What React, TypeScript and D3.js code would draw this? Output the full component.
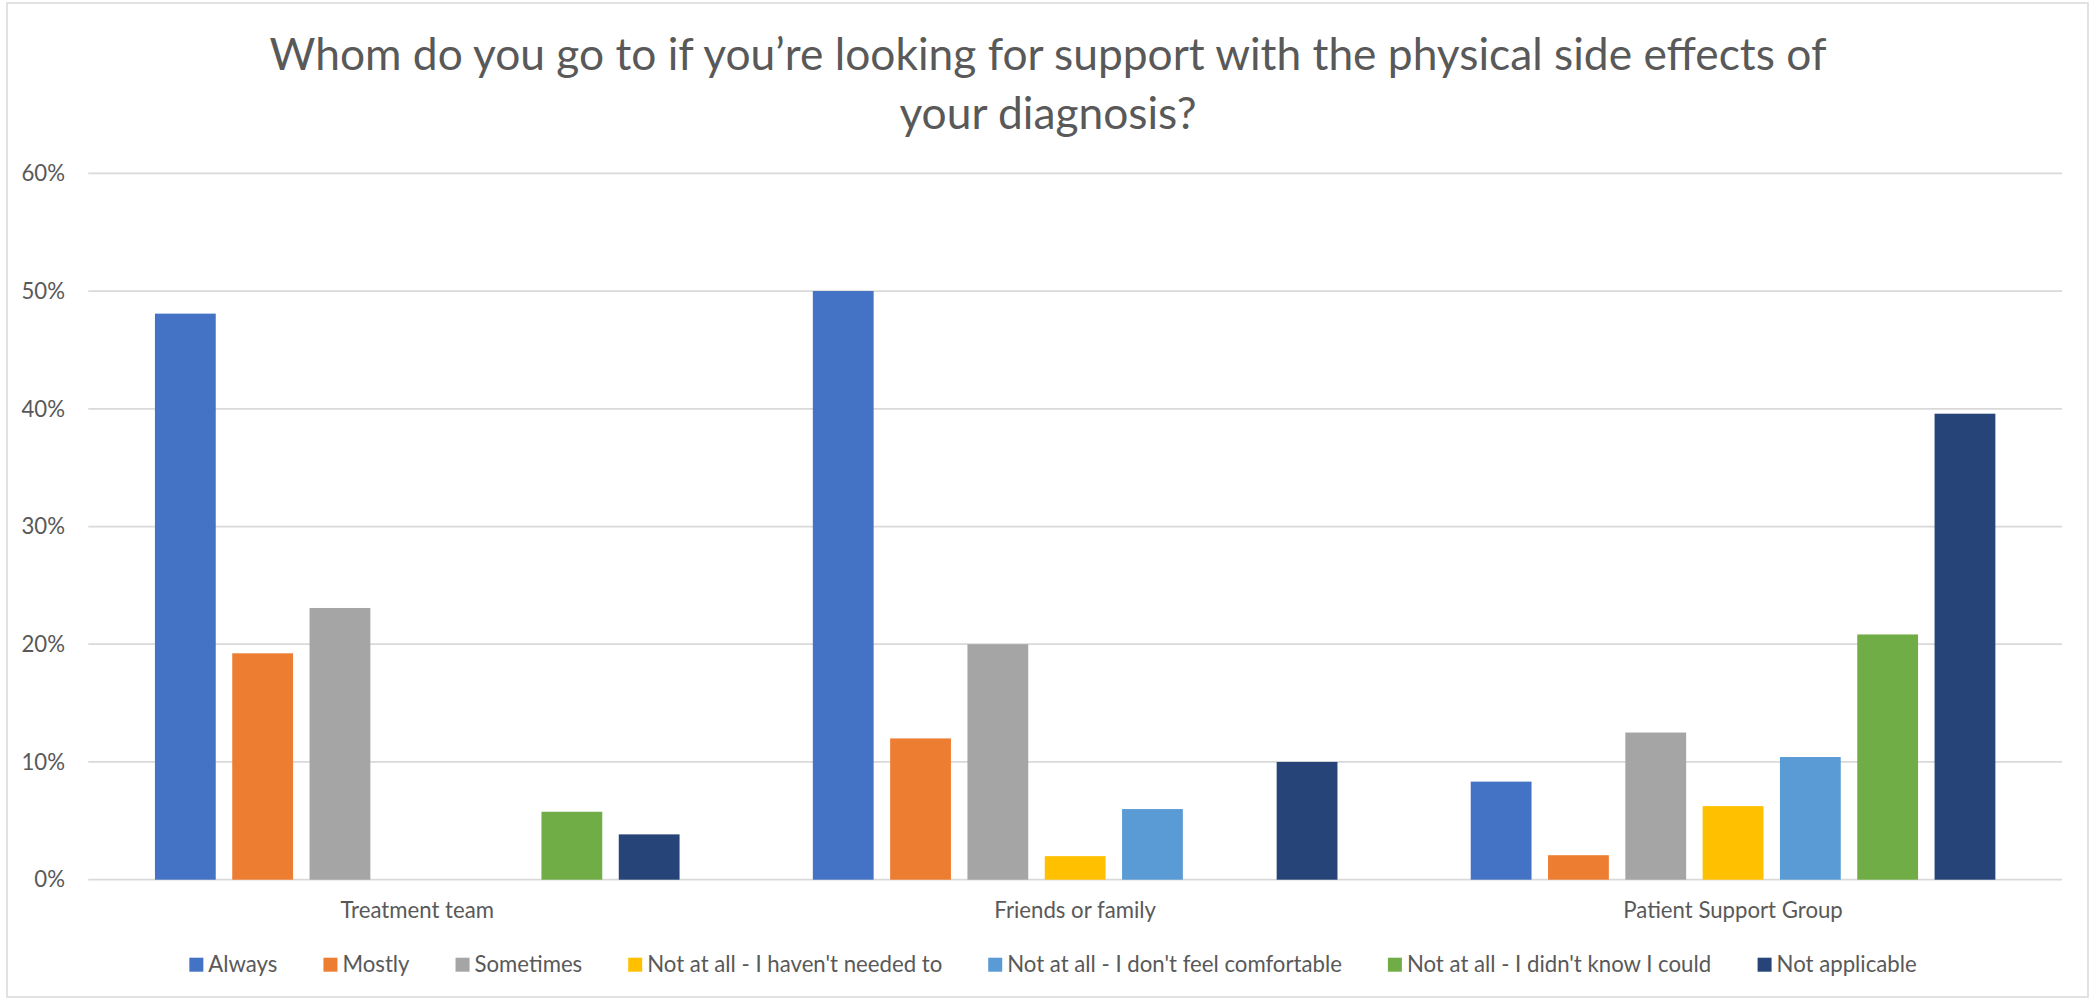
import React from 'react';
import * as d3 from 'd3';

const categories = ['Treatment team', 'Friends or family', 'Patient Support Group'];
const seriesNames = [
  'Always',
  'Mostly',
  'Sometimes',
  "Not at all - I haven't needed to",
  "Not at all - I don't feel comfortable",
  "Not at all - I didn't know I could",
  'Not applicable',
];
const seriesColors = ['#4472C4', '#ED7D31', '#A5A5A5', '#FFC000', '#5B9BD5', '#70AD47', '#264478'];

const always = [48.08, 50.0, 8.33];
const mostly = [19.23, 12.0, 2.08];
const sometimes = [23.08, 20.0, 12.5];
const haventNeeded = [0, 2.0, 6.25];
const notComfortable = [0, 6.0, 10.42];
const didntKnow = [5.77, 0, 20.83];
const notApplicable = [3.85, 10.0, 39.58];
const seriesValues = [always, mostly, sometimes, haventNeeded, notComfortable, didntKnow, notApplicable];

const yTicks = [0, 10, 20, 30, 40, 50, 60];
const titleLines = [
  'Whom do you go to if you\u2019re looking for support with the physical side effects of',
  'your diagnosis?',
];

const W = 2094;
const H = 1000;
const FONT = 'Lato, "Open Sans", sans-serif';
const SMALL = 22.2;
const TITLE = 44.3;
const TEXT = '#595959';
const GRID = '#D9D9D9';

function measure(text: string, size: number): number {
  if (typeof document === 'undefined') return text.length * size * 0.45;
  const c = document.createElement('canvas');
  const ctx = c.getContext('2d');
  if (!ctx) return text.length * size * 0.45;
  ctx.font = `${size}px Lato`;
  return ctx.measureText(text).width;
}

export default function App() {
  const left = 88.3;
  const right = 2062;
  const top = 173.3;
  const bottom = 879.7;

  const y = d3.scaleLinear().domain([0, 60]).range([bottom, top]);
  const x0 = d3.scaleBand<string>().domain(categories).range([left, right]).padding(0);
  const x1 = d3
    .scaleBand<string>()
    .domain(seriesNames)
    .range([0, x0.bandwidth()])
    .paddingInner(0.2135)
    .paddingOuter(0.862);

  // legend layout
  const sq = 14;
  const sqGap = 5;
  const itemGap = 46;
  const widths = seriesNames.map((s) => measure(s, SMALL));
  const total = widths.reduce((a, w) => a + sq + sqGap + w, 0) + itemGap * (seriesNames.length - 1);
  let cursor = 1053 - total / 2;
  const legendItems = seriesNames.map((s, i) => {
    const xPos = cursor;
    cursor += sq + sqGap + widths[i] + itemGap;
    return { name: s, color: seriesColors[i], x: xPos };
  });

  return (
    <svg
      width={W}
      height={H}
      style={{ position: 'absolute', left: 0, top: 0, background: '#fff' }}
      fontFamily={FONT}
    >
      <rect x={7} y={3} width={2081} height={994} fill="#fff" stroke={GRID} strokeWidth={1.5} />

      {titleLines.map((t, i) => (
        <text key={i} x={1048} y={70 + i * 59} textAnchor="middle" fontSize={TITLE} fill={TEXT}>
          {t}
        </text>
      ))}

      {yTicks.map((t) => (
        <g key={t}>
          <line x1={left} x2={right} y1={y(t)} y2={y(t)} stroke={GRID} strokeWidth={1.75} />
          <text x={65} y={y(t) + SMALL * 0.35} textAnchor="end" fontSize={SMALL} fill={TEXT}>
            {`${t}%`}
          </text>
        </g>
      ))}

      {categories.map((c, ci) => (
        <g key={c} transform={`translate(${x0(c)},0)`}>
          {seriesNames.map((s, si) => {
            const v = seriesValues[si][ci];
            if (!v) return null;
            return (
              <rect
                key={s}
                x={x1(s)}
                y={y(v)}
                width={x1.bandwidth()}
                height={y(0) - y(v)}
                fill={seriesColors[si]}
              />
            );
          })}
          <text
            x={x0.bandwidth() / 2}
            y={918}
            textAnchor="middle"
            fontSize={SMALL}
            fill={TEXT}
          >
            {c}
          </text>
        </g>
      ))}

      {legendItems.map((it) => (
        <g key={it.name}>
          <rect x={it.x} y={957.7} width={sq} height={sq} fill={it.color} />
          <text x={it.x + sq + sqGap} y={972} fontSize={SMALL} fill={TEXT}>
            {it.name}
          </text>
        </g>
      ))}
    </svg>
  );
}
